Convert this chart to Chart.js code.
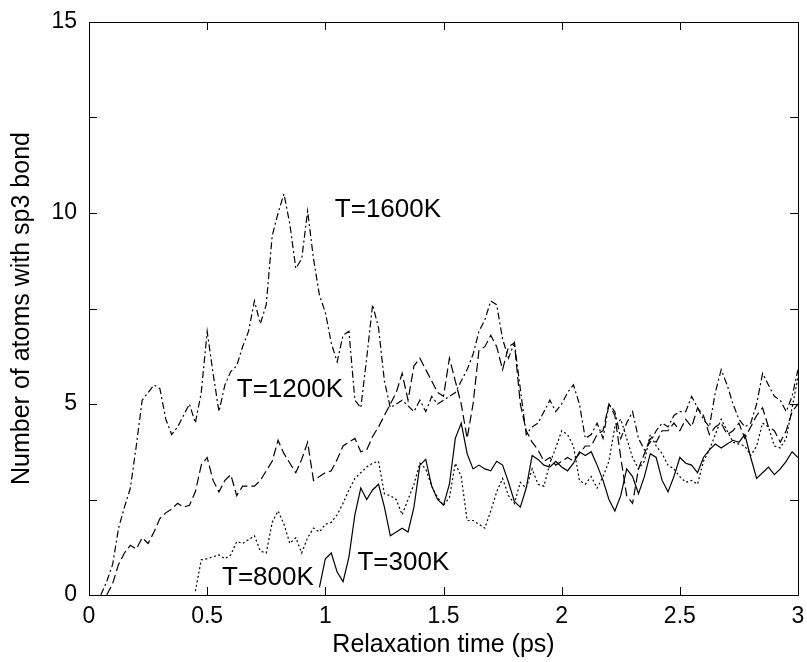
<!DOCTYPE html>
<html>
<head>
<meta charset="utf-8">
<script src="https://cdn.jsdelivr.net/npm/chart.js@4.4.1/dist/chart.umd.min.js"></script>
<style>
html,body{margin:0;padding:0;background:#fff;}
#wrap{width:807px;height:662px;}
</style>
</head>
<body>
<div id="wrap"><canvas id="c" width="807" height="662"></canvas></div>
<script>
// Relaxation time grid (ps)
const time = [0,0.025,0.05,0.075,0.1,0.125,0.15,0.175,0.2,0.225,
0.25,0.275,0.3,0.325,0.35,0.375,0.4,0.425,0.45,0.475,
0.5,0.525,0.55,0.575,0.6,0.625,0.65,0.675,0.7,0.725,
0.75,0.775,0.8,0.825,0.85,0.875,0.9,0.925,0.95,0.975,
1,1.025,1.05,1.075,1.1,1.125,1.15,1.175,1.2,1.225,
1.25,1.275,1.3,1.325,1.35,1.375,1.4,1.425,1.45,1.475,
1.5,1.525,1.55,1.575,1.6,1.625,1.65,1.675,1.7,1.725,
1.75,1.775,1.8,1.825,1.85,1.875,1.9,1.925,1.95,1.975,
2,2.025,2.05,2.075,2.1,2.125,2.15,2.175,2.2,2.225,
2.25,2.275,2.3,2.325,2.35,2.375,2.4,2.425,2.45,2.475,
2.5,2.525,2.55,2.575,2.6,2.625,2.65,2.675,2.7,2.725,
2.75,2.775,2.8,2.825,2.85,2.875,2.9,2.925,2.95,2.975,
3];

const t1600 = [null,null,0,0.35,0.8,1.75,2.3,2.8,3.9,5.1,
5.3,5.5,5.4,4.6,4.2,4.4,4.7,5.0,4.5,5.3,
6.9,5.8,4.8,5.5,5.85,6.0,6.5,6.9,7.7,7.1,
7.6,9.4,10.0,10.5,9.7,8.55,8.8,10.05,8.8,7.85,
7.4,6.6,6.1,6.8,6.9,5.1,4.9,6.2,7.6,7.0,
5.6,4.9,5.0,5.1,4.95,4.8,5.1,4.8,5.2,5.0,
5.1,5.2,5.3,5.6,5.9,6.3,6.9,7.2,7.7,7.6,
6.7,6.2,6.6,5.4,4.2,4.4,4.5,4.8,5.1,4.8,
5.0,5.3,5.5,5.0,4.1,4.2,4.5,4.1,5.0,4.8,
4.1,4.5,4.8,4.1,3.8,4.0,4.3,4.5,4.4,4.7,
4.8,4.8,5.2,4.9,4.6,4.4,5.3,5.9,5.5,5.0,
4.6,4.4,4.5,5.0,5.8,5.5,5.2,5.1,4.8,5.2,
5.9];

const t1200 = [null,null,null,0,0.3,0.8,1.1,1.3,1.2,1.5,
1.35,1.65,2.0,2.15,2.25,2.4,2.3,2.35,2.7,3.4,
3.6,3.0,2.7,3.0,3.15,2.6,2.85,2.85,2.85,3.0,
3.25,3.5,4.05,3.7,3.45,3.2,3.55,4.0,3.0,3.1,
3.2,3.25,3.55,3.9,4.0,4.1,3.75,3.8,4.15,4.4,
4.7,5.0,5.3,5.8,5.1,6.0,6.2,5.9,5.6,5.3,
5.2,6.2,5.6,5.0,4.1,5.0,6.4,6.5,6.8,6.5,
5.9,6.5,6.6,5.0,4.3,4.0,3.8,3.5,3.6,3.4,
3.5,3.6,3.5,3.7,3.9,3.9,4.2,4.3,5.0,4.7,
3.6,2.6,2.4,3.3,3.7,4.1,4.0,4.3,4.3,4.5,
4.3,4.6,4.4,4.9,4.7,4.2,4.4,4.5,4.2,4.3,
4.5,4.1,4.4,4.7,4.9,4.4,4.3,4.0,4.3,4.8,
5.0];

const t800 = [null,null,null,null,null,null,null,null,null,null,
null,null,null,null,null,null,null,null,0.1,0.92,
0.95,1.0,1.05,0.95,1.05,1.4,1.35,1.45,1.55,1.15,
1.1,1.9,2.2,1.85,1.35,1.5,1.1,1.5,1.75,1.65,
1.85,1.9,2.1,2.4,2.75,3.05,3.2,3.35,3.45,3.5,
2.65,2.6,2.5,2.1,2.5,2.9,3.45,3.3,2.85,2.55,
2.35,2.55,3.45,3.1,1.95,1.95,1.85,1.75,2.2,2.7,
3.05,2.6,2.4,2.95,2.8,3.3,2.9,2.85,3.45,3.85,
4.3,4.2,3.9,3.0,2.9,3.1,2.8,3.1,3.5,4.4,
4.6,4.1,3.6,3.3,3.5,4.2,3.9,3.7,3.4,3.3,
3.1,2.95,3.0,2.9,3.5,3.8,4.2,4.6,4.3,4.0,
3.95,3.9,3.65,3.9,4.5,4.4,3.9,3.85,4.1,4.9,
5.7];

const t300 = [null,null,null,null,null,null,null,null,null,null,
null,null,null,null,null,null,null,null,null,null,
null,null,null,null,null,null,null,null,null,null,
null,null,null,null,null,null,null,null,null,0.2,
0.95,1.1,0.6,0.35,1.0,2.1,2.8,2.5,2.75,2.9,
2.3,1.55,1.65,1.75,1.65,2.3,3.4,3.55,2.85,2.5,
2.35,2.9,4.1,4.5,3.7,3.3,3.4,3.3,3.25,3.5,
3.4,2.95,2.45,2.3,2.8,3.65,3.55,3.4,3.35,3.5,
3.35,3.25,3.45,3.75,3.65,3.75,3.4,3.0,2.5,2.2,
2.6,3.3,3.1,2.65,3.1,3.7,3.6,3.0,2.7,3.1,
3.6,3.45,3.4,3.2,3.6,3.8,3.95,3.85,3.95,4.05,
4.0,4.2,3.6,3.05,3.2,3.35,3.15,3.3,3.5,3.75,
3.6];

const seriesNames = ['T=1600K','T=1200K','T=800K','T=300K'];
const xTickValues = [0,0.5,1,1.5,2,2.5,3];
const yTickValues = [0,2.5,5,7.5,10,12.5,15];
const yLabelValues = [0,5,10,15];
// in-plot label anchors (data coordinates)
const labelX = [1.265,0.85,0.757,1.33];
const labelY = [10.08,5.37,0.45,0.84];

const FONT = "'Liberation Sans', Arial, Helvetica, sans-serif";

function pts(vals){ return time.map((t,i)=>({x:t,y:vals[i]})); }

const dashes = [[7,3,2,3],[9,4],[2,2.5],[]];
const allVals = [t1600,t1200,t800,t300];

const framePlugin = {
  id:'frame',
  afterDatasetsDraw(chart){
    const {ctx, chartArea:a, scales:{x,y}} = chart;
    ctx.save();
    ctx.strokeStyle='#000';
    ctx.lineWidth=1;
    ctx.setLineDash([]);
    ctx.beginPath();
    ctx.rect(Math.round(a.left)+0.5, Math.round(a.top)+0.5, Math.round(a.right-a.left), Math.round(a.bottom-a.top));
    ctx.stroke();
    const L=8;
    ctx.beginPath();
    xTickValues.forEach(v=>{
      const px=Math.round(x.getPixelForValue(v))+0.5;
      ctx.moveTo(px,a.bottom); ctx.lineTo(px,a.bottom-L);
      ctx.moveTo(px,a.top); ctx.lineTo(px,a.top+L);
    });
    yTickValues.forEach(v=>{
      const py=Math.round(y.getPixelForValue(v))+0.5;
      ctx.moveTo(a.left,py); ctx.lineTo(a.left+L,py);
      ctx.moveTo(a.right,py); ctx.lineTo(a.right-L,py);
    });
    ctx.stroke();
    // series labels
    ctx.fillStyle='#000';
    ctx.font = '26px ' + FONT;
    ctx.textAlign='center';
    ctx.textBaseline='middle';
    seriesNames.forEach((n,i)=>{
      ctx.fillText(n, x.getPixelForValue(labelX[i]), y.getPixelForValue(labelY[i]));
    });
    ctx.restore();
  }
};

new Chart(document.getElementById('c'), {
  type:'line',
  data:{
    datasets: seriesNames.map((n,i)=>({
      label:n,
      data:pts(allVals[i]),
      borderColor:'#000',
      borderWidth:1.2,
      borderDash:dashes[i],
      pointRadius:0,
      fill:false,
      tension:0,
      spanGaps:false
    }))
  },
  options:{
    responsive:false,
    animation:false,
    devicePixelRatio:1,
    layout:{padding:{left:0,right:9,top:22,bottom:0}},
    plugins:{legend:{display:false},tooltip:{enabled:false}},
    scales:{
      x:{
        type:'linear', min:0, max:3,
        afterFit(s){ s.height = 67; s.paddingLeft = 0; s.paddingRight = 0; },
        afterBuildTicks(s){ s.ticks = xTickValues.map(v=>({value:v})); },
        grid:{display:false, drawTicks:false},
        border:{display:false},
        ticks:{color:'#000', font:{family:FONT,size:23}, padding:8, maxRotation:0, autoSkip:false,
          callback:(v)=>String(v)},
        title:{display:true, text:'Relaxation time (ps)', color:'#000', font:{family:FONT,size:25}, padding:{top:0,bottom:2}}
      },
      y:{
        type:'linear', min:0, max:15,
        afterFit(s){ s.width = 89; s.paddingTop = 0; s.paddingBottom = 0; },
        afterBuildTicks(s){ s.ticks = yLabelValues.map(v=>({value:v})); },
        grid:{display:false, drawTicks:false},
        border:{display:false},
        ticks:{color:'#000', font:{family:FONT,size:23}, padding:12, callback:(v)=>String(v)},
        title:{display:true, text:'Number of atoms with sp3 bond', color:'#000', font:{family:FONT,size:25}, padding:{top:7,bottom:0}}
      }
    }
  },
  plugins:[framePlugin]
});
</script>
</body>
</html>
